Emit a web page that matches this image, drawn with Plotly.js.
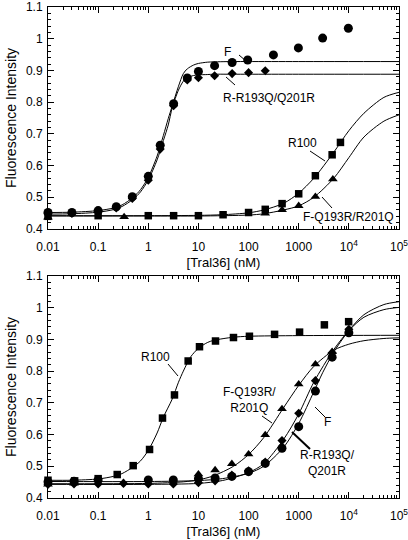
<!DOCTYPE html>
<html>
<head>
<meta charset="utf-8">
<script src="https://cdn.plot.ly/plotly-3.0.1.min.js"></script>
<style>html,body{margin:0;padding:0;background:#fff;}#chart{width:408px;height:540px;}</style>
</head>
<body>
<div id="chart"></div>
<script>
// ---------- TOP PANEL DATA ----------
var topF_x = [0.01, 0.03, 0.1, 0.23, 0.48, 1, 1.73, 3.2, 6, 10, 21, 47, 96, 313, 985, 3000, 9770];
var topF_y = [0.452, 0.452, 0.458, 0.470, 0.502, 0.566, 0.664, 0.795, 0.876, 0.897, 0.915, 0.925, 0.933, 0.949, 0.971, 1.002, 1.033];
var topRR_x = [0.01, 0.03, 0.1, 0.23, 0.48, 1, 1.73, 3.2, 6, 10, 21, 47, 100, 215];
var topRR_y = [0.448, 0.449, 0.454, 0.466, 0.496, 0.554, 0.652, 0.789, 0.870, 0.877, 0.883, 0.890, 0.893, 0.899];
var topR100_x = [0.01, 0.1, 1, 3.2, 10, 31, 100, 215, 466, 1000, 2150, 4640, 6800];
var topR100_y = [0.440, 0.442, 0.442, 0.442, 0.442, 0.445, 0.452, 0.462, 0.480, 0.511, 0.568, 0.634, 0.673];
var topFQ_x = [0.01, 0.33, 215, 466, 1000, 2150, 4800];
var topFQ_y = [0.437, 0.438, 0.449, 0.460, 0.473, 0.502, 0.557];

// fitted curves
var fitTopF_x = [0.01, 0.03, 0.1, 0.2, 0.3, 0.5, 0.7, 1, 1.5, 2, 2.5, 3, 4, 5, 6, 8, 10, 15, 20, 50, 100, 1000, 100000];
var fitTopF_y = [0.452, 0.453, 0.458, 0.466, 0.476, 0.500, 0.524, 0.563, 0.630, 0.695, 0.748, 0.788, 0.850, 0.890, 0.905, 0.917, 0.922, 0.926, 0.927, 0.928, 0.928, 0.928, 0.928];
var fitTopRR_x = [0.01, 0.03, 0.1, 0.2, 0.3, 0.5, 0.7, 1, 1.5, 2, 2.5, 3, 4, 5, 6, 8, 10, 15, 20, 50, 100, 1000, 100000];
var fitTopRR_y = [0.447, 0.448, 0.453, 0.461, 0.471, 0.494, 0.517, 0.555, 0.618, 0.679, 0.728, 0.782, 0.838, 0.866, 0.877, 0.884, 0.886, 0.887, 0.888, 0.888, 0.888, 0.888, 0.888];
var fitTopR100_x = [0.01, 1, 10, 30, 100, 200, 500, 1000, 2000, 5000, 10000, 20000, 50000, 100000];
var fitTopR100_y = [0.442, 0.442, 0.443, 0.445, 0.451, 0.460, 0.481, 0.513, 0.560, 0.642, 0.710, 0.765, 0.815, 0.831];
var fitTopFQ_x = [0.01, 1, 10, 100, 200, 500, 1000, 2000, 5000, 10000, 20000, 50000, 100000];
var fitTopFQ_y = [0.441, 0.441, 0.441, 0.444, 0.448, 0.460, 0.473, 0.500, 0.560, 0.625, 0.690, 0.740, 0.760];

// ---------- BOTTOM PANEL DATA ----------
var botR100_x = [0.01, 0.034, 0.1, 0.24, 0.5, 1.06, 1.92, 3.33, 6.24, 10.5, 21.9, 50, 104, 330, 1040, 3250, 9900];
var botR100_y = [0.456, 0.454, 0.461, 0.474, 0.502, 0.553, 0.652, 0.725, 0.832, 0.877, 0.895, 0.906, 0.910, 0.916, 0.923, 0.946, 0.956];
var botFQ_x = [0.01, 0.033, 0.32, 10, 21.5, 46.4, 100, 215, 464, 1000, 2154, 4640];
var botFQ_y = [0.443, 0.446, 0.448, 0.475, 0.488, 0.508, 0.538, 0.599, 0.681, 0.759, 0.822, 0.861];
var botRR_x = [0.01, 0.033, 0.1, 0.32, 1, 3.16, 10, 21.5, 46.4, 100, 215, 464, 1000, 2154, 4640, 10000];
var botRR_y = [0.443, 0.444, 0.444, 0.446, 0.444, 0.444, 0.448, 0.454, 0.472, 0.486, 0.513, 0.581, 0.667, 0.770, 0.858, 0.932];
var botF_x = [0.01, 0.033, 0.1, 1, 3.16, 10, 21.5, 46.4, 100, 215, 464, 1000, 2154, 4640, 10000];
var botF_y = [0.451, 0.453, 0.457, 0.457, 0.457, 0.461, 0.463, 0.468, 0.483, 0.509, 0.557, 0.625, 0.737, 0.844, 0.921];

var fitBotR100_x = [0.01, 0.03, 0.1, 0.2, 0.3, 0.5, 0.7, 1, 1.5, 2, 3, 4, 5, 7, 10, 15, 20, 50, 100, 1000, 100000];
var fitBotR100_y = [0.456, 0.456, 0.460, 0.468, 0.477, 0.498, 0.517, 0.550, 0.605, 0.655, 0.712, 0.765, 0.800, 0.845, 0.872, 0.890, 0.897, 0.907, 0.910, 0.912, 0.913];
var fitBotFQ_x = [0.01, 1, 5, 10, 20, 50, 100, 200, 500, 1000, 2000, 5000, 10000, 20000, 50000, 100000];
var fitBotFQ_y = [0.445, 0.446, 0.451, 0.457, 0.470, 0.500, 0.537, 0.590, 0.685, 0.755, 0.815, 0.866, 0.885, 0.896, 0.903, 0.905];
var fitBotRR_x = [0.01, 1, 10, 30, 100, 200, 500, 1000, 2000, 5000, 10000, 20000, 50000, 100000];
var fitBotRR_y = [0.443, 0.443, 0.446, 0.455, 0.480, 0.508, 0.585, 0.665, 0.765, 0.868, 0.928, 0.970, 0.994, 1.001];
var fitBotF_x = [0.01, 1, 10, 30, 100, 200, 500, 1000, 2000, 3000, 5000, 10000, 20000, 50000, 100000];
var fitBotF_y = [0.452, 0.452, 0.455, 0.461, 0.478, 0.500, 0.560, 0.635, 0.735, 0.795, 0.860, 0.928, 0.978, 1.010, 1.019];

// ---------- TICKS ----------
var xTickVals = [0.01, 0.1, 1, 10, 100, 1000, 10000, 100000];
var xTickText = ['0.01', '0.1', '1', '10', '100', '1000', '10<sup>4</sup>', '10<sup>5</sup>'];
var xMinor = [];
for (var d = 0; d < 7; d++) { for (var m = 2; m <= 9; m++) { xMinor.push(m * xTickVals[d]); } }

var FONT = 'Liberation Sans, Arial, Helvetica, sans-serif';

function markers(x, y, sym, size, xa, ya) {
  return {x: x, y: y, xaxis: xa, yaxis: ya, mode: 'markers', type: 'scatter',
    marker: {symbol: sym, size: size, color: '#000'}, showlegend: false, hoverinfo: 'skip', cliponaxis: false};
}
function fit(x, y, xa, ya, col, w) {
  return {x: x, y: y, xaxis: xa, yaxis: ya, mode: 'lines', type: 'scatter',
    line: {color: col || '#000', width: w || 1, shape: 'spline', smoothing: 0.8}, showlegend: false, hoverinfo: 'skip'};
}

var data = [
  fit(fitTopF_x, fitTopF_y, 'x2', 'y2'),
  fit(fitTopRR_x, fitTopRR_y, 'x2', 'y2'),
  fit(fitTopR100_x, fitTopR100_y, 'x2', 'y2'),
  fit(fitTopFQ_x, fitTopFQ_y, 'x2', 'y2'),
  markers(topFQ_x, topFQ_y, 'triangle-up', 8.5, 'x2', 'y2'),
  markers(topR100_x, topR100_y, 'square', 7.5, 'x2', 'y2'),
  markers(topF_x, topF_y, 'circle', 9, 'x2', 'y2'),
  markers(topRR_x, topRR_y, 'diamond', 7, 'x2', 'y2'),

  fit(fitBotR100_x, fitBotR100_y, 'x', 'y'),
  fit(fitBotFQ_x, fitBotFQ_y, 'x', 'y'),
  fit(fitBotRR_x, fitBotRR_y, 'x', 'y'),
  fit(fitBotF_x, fitBotF_y, 'x', 'y'),
  markers(botFQ_x, botFQ_y, 'triangle-up', 8.5, 'x', 'y'),
  markers(botR100_x, botR100_y, 'square', 7.5, 'x', 'y'),
  markers(botF_x, botF_y, 'circle', 9, 'x', 'y'),
  markers(botRR_x, botRR_y, 'diamond', 7, 'x', 'y')
];

function xAxis(anchor) {
  return {
    type: 'log', range: [-2, 5], anchor: anchor, domain: [48/408, 399/408],
    tickmode: 'array', tickvals: xTickVals, ticktext: xTickText,
    ticks: 'inside', ticklen: 6, tickwidth: 1, tickcolor: '#000',
    ticklabeloverflow: 'allow', ticklabelstandoff: 7,
    showline: true, linecolor: '#000', linewidth: 1, mirror: 'ticks',
    showgrid: false, zeroline: false,
    minor: {tickmode: 'array', tickvals: xMinor, ticks: 'inside', ticklen: 3, tickcolor: '#000', tickwidth: 1, showgrid: false},
    tickfont: {family: FONT, size: 12, color: '#000'},
    title: {text: '[Tral36] (nM)', font: {family: FONT, size: 13, color: '#000'}, standoff: 4}
  };
}
function yAxis(anchor, dom) {
  return {
    range: [0.4, 1.1], anchor: anchor, domain: dom,
    tickmode: 'linear', tick0: 0.4, dtick: 0.1,
    ticks: 'inside', ticklen: 6, tickwidth: 1, tickcolor: '#000',
    ticklabelstandoff: 2,
    showline: true, linecolor: '#000', linewidth: 1, mirror: 'ticks',
    showgrid: false, zeroline: false,
    minor: {dtick: 0.02, ticks: 'inside', ticklen: 3, tickcolor: '#000', tickwidth: 1, showgrid: false},
    tickfont: {family: FONT, size: 12, color: '#000'},
    title: {text: 'Fluorescence Intensity', font: {family: FONT, size: 14, color: '#000'}, standoff: 6}
  };
}

function P(px, py) { return [px / 408, 1 - py / 540]; }
function lbl(text, px, py) {
  var p = P(px, py);
  return {text: text, x: p[0], y: p[1], xref: 'paper', yref: 'paper', showarrow: false,
    xanchor: 'center', yanchor: 'middle', align: 'center', font: {family: FONT, size: 12, color: '#000'}};
}
function seg(x0, y0, x1, y1, w) {
  var a = P(x0, y0), b = P(x1, y1);
  return {type: 'line', xref: 'paper', yref: 'paper', x0: a[0], y0: a[1], x1: b[0], y1: b[1],
    line: {color: '#000', width: w || 1}};
}

var layout = {
  width: 408, height: 540,
  margin: {l: 0, r: 0, t: 0, b: 0},
  paper_bgcolor: '#fff', plot_bgcolor: '#fff',
  showlegend: false,
  xaxis: xAxis('y'),
  yaxis: yAxis('x', [42/540, 264/540]),
  xaxis2: xAxis('y2'),
  yaxis2: yAxis('x2', [311/540, 533/540]),
  annotations: [
    lbl('F', 227, 52),
    lbl('R-R193Q/Q201R', 269, 98),
    lbl('R100', 302, 143),
    lbl('F-Q193R/R201Q', 348, 217),
    lbl('R100', 155, 357),
    lbl('F-Q193R/<br>R201Q', 249, 400),
    lbl('F', 327, 422),
    lbl('R-R193Q/<br>Q201R', 327, 463)
  ],
  shapes: [
    seg(239, 55, 246, 61),
    seg(226, 77, 235, 85),
    seg(310, 151, 325, 161),
    seg(322, 197, 332, 208),
    seg(168, 364, 178, 376),
    seg(262, 416, 272, 423),
    seg(315, 407, 325, 417),
    seg(292, 432, 310, 449, 2)
  ]
};

Plotly.newPlot('chart', data, layout, {staticPlot: true, displayModeBar: false});
</script>
</body>
</html>
